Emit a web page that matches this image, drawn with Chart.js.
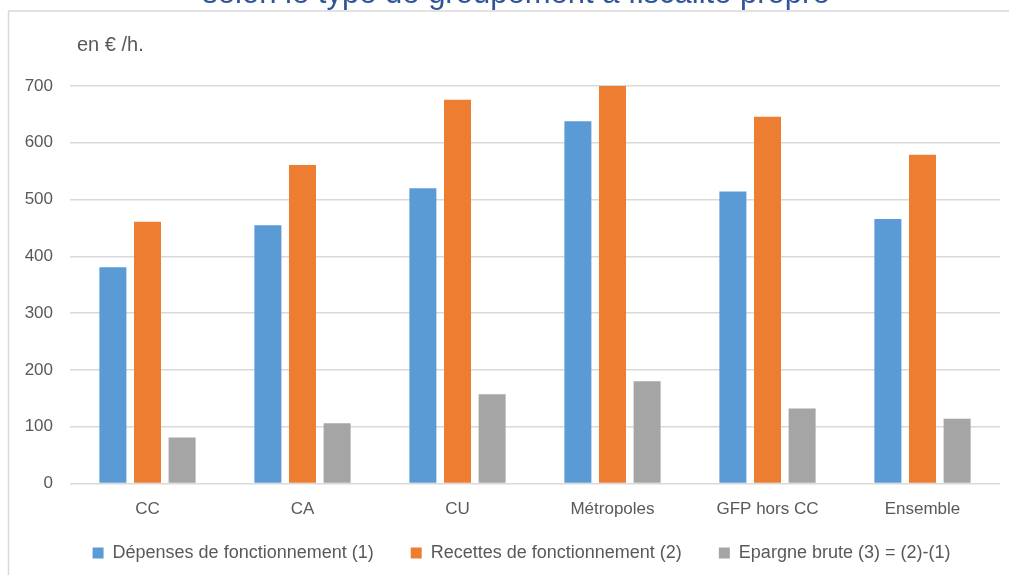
<!DOCTYPE html>
<html lang="fr">
<head>
<meta charset="utf-8">
<title>Dépenses et recettes de fonctionnement par type de GFP</title>
<script src="https://cdn.jsdelivr.net/npm/chart.js@4/dist/chart.umd.min.js"></script>
<style>
    html, body { margin: 0; padding: 0; background: #fff; }
    #wrap { position: relative; width: 1009px; height: 575px; }
</style>
</head>
<body>
<div id="wrap"><canvas id="gfpChart" width="1009" height="575"></canvas></div>
<script>
/* =========================================================
   DATA (en € par habitant)
========================================================= */
const groupTypes = ["CC", "CA", "CU", "Métropoles", "GFP hors CC", "Ensemble"];
const depenses = [381, 455, 520, 638, 514, 466];
const recettes = [461, 561, 676, 700, 646, 579];
const epargne = [81, 106, 157, 180, 132, 114];
const seriesNames = [
    "Dépenses de fonctionnement (1)",
    "Recettes de fonctionnement (2)",
    "Epargne brute (3) = (2)-(1)"
];
const yTicks = [0, 100, 200, 300, 400, 500, 600, 700];

const titleText = "selon le type de groupement à fiscalité propre";
const unitText = "en € /h.";

const FONT = "'Liberation Sans', Arial, sans-serif";
const GREY_TEXT = "#595959";

/* =========================================================
   FRAME + HEADINGS (drawn on the canvas)
========================================================= */
const frameAndHeadings = {
    id: "frameAndHeadings",
    beforeDraw(chart) {
        const ctx = chart.ctx;
        ctx.save();
        // light frame, only top and left edges are visible
        ctx.strokeStyle = "#d9d9d9";
        ctx.lineWidth = 1.5;
        ctx.beginPath();
        ctx.moveTo(8.5, chart.height);
        ctx.lineTo(8.5, 11);
        ctx.lineTo(chart.width, 11);
        ctx.stroke();

        // title sits above the frame, mostly cut off
        ctx.fillStyle = "#2f5597";
        ctx.font = "31px " + FONT;
        ctx.textAlign = "center";
        ctx.textBaseline = "alphabetic";
        ctx.fillText(titleText, 516, 3);

        ctx.fillStyle = GREY_TEXT;
        ctx.font = "20px " + FONT;
        ctx.textAlign = "left";
        ctx.fillText(unitText, 77, 51);
        ctx.restore();
    }
};

/* =========================================================
   CHART
========================================================= */
const colors = ["#5b9bd5", "#ed7d31", "#a5a5a5"];
const values = [depenses, recettes, epargne];

new Chart(document.getElementById("gfpChart"), {
    type: "bar",
    data: {
        labels: groupTypes,
        datasets: values.map((v, i) => ({
            label: seriesNames[i],
            data: v,
            backgroundColor: colors[i],
            borderWidth: 0,
            categoryPercentage: 0.67,
            barPercentage: 0.78
        }))
    },
    options: {
        responsive: false,
        animation: false,
        layout: { padding: { top: 86, left: 23, right: 9, bottom: 3 } },
        scales: {
            x: {
                grid: { display: false },
                border: { display: false },
                ticks: { color: GREY_TEXT, font: { family: FONT, size: 17 }, padding: 8 },
                afterFit(scale) { scale.height = 50.5; }
            },
            y: {
                min: 0,
                max: 700,
                afterBuildTicks(scale) { scale.ticks = yTicks.map(v => ({ value: v })); },
                grid: { color: "#d9d9d9", lineWidth: 1.5, drawTicks: false },
                border: { display: false },
                ticks: { color: GREY_TEXT, font: { family: FONT, size: 17 }, padding: 17 },
                afterFit(scale) { scale.width = 47; }
            }
        },
        plugins: {
            legend: {
                position: "bottom",
                fullSize: false,
                labels: {
                    color: GREY_TEXT,
                    font: { family: FONT, size: 18 },
                    boxWidth: 11,
                    boxHeight: 11,
                    padding: 10,
                    // extra room between legend entries
                    generateLabels(chart) {
                        const items = Chart.defaults.plugins.legend.labels.generateLabels(chart);
                        items.forEach(it => { it.text = it.text + "\u2002\u2002\u2002"; });
                        return items;
                    }
                }
            },
            tooltip: { enabled: false }
        }
    },
    plugins: [frameAndHeadings]
});
</script>
</body>
</html>
